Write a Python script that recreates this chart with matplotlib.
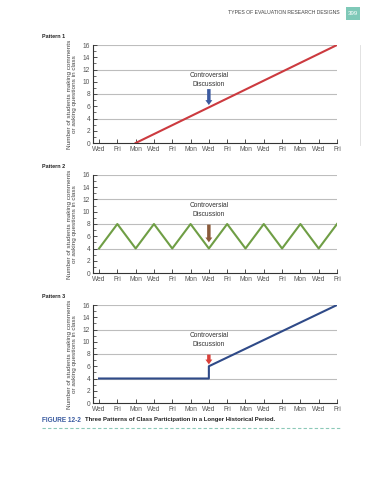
import matplotlib.pyplot as plt
import matplotlib.lines as mlines
import matplotlib.patches as mpatches
import numpy as np

plt.rcParams['font.family'] = ['Liberation Sans', 'DejaVu Sans']

days = ['Wed', 'Fri', 'Mon', 'Wed', 'Fri', 'Mon', 'Wed', 'Fri', 'Mon', 'Wed', 'Fri', 'Mon', 'Wed', 'Fri']
x = np.arange(len(days))

# pattern 1: steady climb starting Mon
p1_x = [2, 13]
p1_y = [0, 16]
# pattern 2: zigzag between 4 and 8
p2_y = [4, 8, 4, 8, 4, 8, 4, 8, 4, 8, 4, 8, 4, 8]
# pattern 3: flat then jump then climb
p3_x = [0, 6, 6, 13]
p3_y = [4, 4, 6, 16]

event_x = 6
ylabel = 'Number of students making comments\nor asking questions in class'

fig = plt.figure(figsize=(3.81, 4.8), dpi=100)
W, H = 381, 480

def px_axes(top, bottom):
    left, right = 93, 337
    return fig.add_axes([left / W, 1 - bottom / H, (right - left) / W, (bottom - top) / H])

def style(ax):
    ax.set_xlim(-0.33, 13)
    ax.set_ylim(0, 16)
    ax.set_yticks(range(0, 17, 2))
    ax.set_yticks(range(1, 16, 2), minor=True)
    ax.set_xticks(x)
    ax.set_xticklabels(days)
    for s in ['top', 'right']:
        ax.spines[s].set_visible(False)
    for s in ['left', 'bottom']:
        ax.spines[s].set_linewidth(0.8)
        ax.spines[s].set_color('#333333')
    for yy in [4, 8, 12, 16]:
        ax.axhline(yy, color='#bdbdbd', lw=0.8, zorder=0)
    ax.tick_params(axis='both', which='major', direction='in', length=3, width=0.6,
                   labelsize=4.8, labelcolor='#555555', color='#333333', pad=2)
    ax.tick_params(axis='y', which='minor', direction='in', length=2, width=0.5, color='#333333')
    ax.set_ylabel(ylabel, fontsize=4.6, color='#444444', labelpad=4, linespacing=1.05)

def event(ax, text_y, y0, y1, color):
    ax.text(event_x, text_y, 'Controversial\nDiscussion', ha='center', va='center',
            fontsize=4.8, color='#333333', linespacing=1.3)
    ax.annotate('', xy=(event_x, y1), xytext=(event_x, y0),
                arrowprops=dict(arrowstyle='simple,head_width=0.5,head_length=0.35,tail_width=0.25',
                                color=color, lw=0, shrinkA=0, shrinkB=0))

ax1 = px_axes(45, 143)
style(ax1)
ax1.plot(p1_x, p1_y, color='#cc3a3f', lw=1.5, zorder=3)
event(ax1, 10.3, 8.8, 6.2, '#3b5aa0')

ax2 = px_axes(175, 273)
style(ax2)
ax2.plot(x, p2_y, color='#6f9e45', lw=1.5, zorder=3)
event(ax2, 10.3, 7.9, 5.0, '#8a5a3a')

ax3 = px_axes(305, 403)
style(ax3)
ax3.plot(p3_x, p3_y, color='#2f4a88', lw=1.5, zorder=3)
event(ax3, 10.3, 7.9, 6.3, '#d9403a')

for lbl, yy in [('Pattern 1', 37), ('Pattern 2', 167), ('Pattern 3', 297)]:
    fig.text(42 / W, 1 - yy / H, lbl, fontsize=3.9, fontweight='bold', color='#222222', va='center')

# faint frame line on right of first panel
fig.add_artist(mlines.Line2D([360 / W, 360 / W], [1 - 45 / H, 1 - 145 / H], color='#dddddd', lw=0.6))

# page header
fig.text(340 / W, 1 - 13 / H, 'TYPES OF EVALUATION RESEARCH DESIGNS', fontsize=3.7, color='#444444',
         ha='right', va='center')
fig.add_artist(mpatches.Rectangle((346 / W, 1 - 20 / H), 14 / W, 13 / H, color='#7fc9b8', lw=0))
fig.text(353 / W, 1 - 13.5 / H, '399', fontsize=4.4, color='white', ha='center', va='center')

# caption
fig.text(42 / W, 1 - 420 / H, 'FIGURE 12-2', fontsize=4.7, color='#3a5ba0', fontweight='bold', va='center')
fig.text(85 / W, 1 - 420 / H, 'Three Patterns of Class Participation in a Longer Historical Period.',
         fontsize=4.3, color='#222222', fontweight='bold', va='center')
fig.add_artist(mlines.Line2D([42 / W, 340 / W], [1 - 428 / H, 1 - 428 / H], color='#8cc9b8',
                             lw=0.8, linestyle=(0, (3, 2))))

fig.savefig('out.png', dpi=100)
